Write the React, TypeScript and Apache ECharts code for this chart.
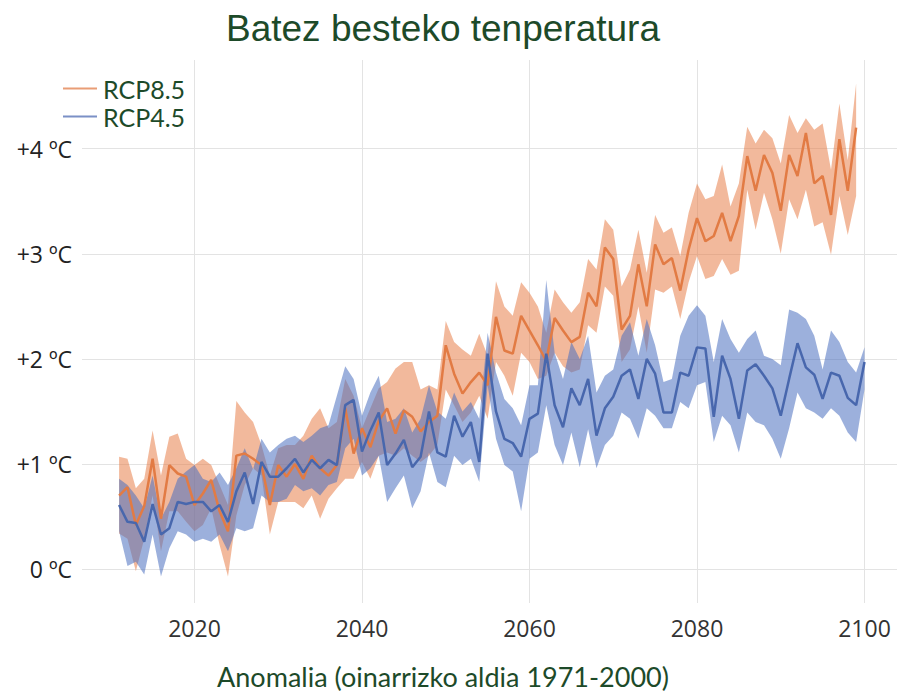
import React, { useEffect, useRef } from 'react';
import * as echarts from 'echarts';

const years = [
  2011, 2012, 2013, 2014, 2015, 2016, 2017, 2018, 2019, 2020,
  2021, 2022, 2023, 2024, 2025, 2026, 2027, 2028, 2029, 2030,
  2031, 2032, 2033, 2034, 2035, 2036, 2037, 2038, 2039, 2040,
  2041, 2042, 2043, 2044, 2045, 2046, 2047, 2048, 2049, 2050,
  2051, 2052, 2053, 2054, 2055, 2056, 2057, 2058, 2059, 2060,
  2061, 2062, 2063, 2064, 2065, 2066, 2067, 2068, 2069, 2070,
  2071, 2072, 2073, 2074, 2075, 2076, 2077, 2078, 2079, 2080,
  2081, 2082, 2083, 2084, 2085, 2086, 2087, 2088, 2089, 2090,
  2091, 2092, 2093, 2094, 2095, 2096, 2097, 2098, 2099, 2100,
];

// RCP8.5 (2011-2099)
const rcp85Mean = [
  0.70, 0.78, 0.42, 0.60, 1.05, 0.48, 0.99, 0.91, 0.88, 0.61,
  0.72, 0.85, 0.55, 0.36, 1.08, 1.10, 1.05, 0.99, 0.61, 0.99,
  0.88, 1.00, 0.86, 1.08, 0.96, 0.89, 0.99, 1.53, 1.10, 1.34,
  1.16, 1.41, 1.53, 1.29, 1.51, 1.45, 1.31, 1.40, 1.46, 2.13,
  1.86, 1.67, 1.78, 1.87, 1.75, 2.40, 2.08, 2.05, 2.41, 2.27,
  2.13, 1.98, 2.39, 2.27, 2.16, 2.21, 2.63, 2.50, 3.06, 2.95,
  2.28, 2.41, 2.90, 2.50, 3.09, 2.90, 2.96, 2.65, 3.04, 3.34,
  3.12, 3.17, 3.39, 3.12, 3.36, 3.93, 3.60, 3.94, 3.77, 3.41,
  3.94, 3.74, 4.15, 3.67, 3.74, 3.37, 4.09, 3.60, 4.20,
];
const rcp85Upper = [
  1.07, 1.05, 0.77, 0.86, 1.32, 0.89, 1.26, 1.29, 1.05, 0.99,
  1.05, 0.99, 0.80, 0.61, 1.60, 1.49, 1.40, 1.18, 0.89, 1.15,
  1.18, 1.18, 1.27, 1.43, 1.53, 1.34, 1.40, 1.81, 1.65, 1.34,
  1.53, 1.72, 1.78, 1.91, 1.97, 1.97, 1.71, 1.75, 1.71, 2.36,
  2.16, 2.09, 2.03, 2.24, 2.03, 2.74, 2.50, 2.41, 2.73, 2.63,
  2.50, 2.25, 2.66, 2.54, 2.44, 2.54, 2.95, 2.85, 3.33, 3.23,
  2.69, 2.85, 3.23, 2.82, 3.37, 3.20, 3.25, 2.98, 3.39, 3.67,
  3.52, 3.55, 3.85, 3.45, 3.67, 4.21, 4.05, 4.18, 4.10, 3.86,
  4.32, 4.15, 4.29, 4.18, 4.24, 3.80, 4.43, 3.89, 4.62,
];
const rcp85Lower = [
  0.34, 0.29, -0.02, 0.29, 0.70, 0.17, 0.55, 0.55, 0.45, 0.36,
  0.42, 0.58, 0.23, -0.07, 0.51, 0.80, 0.96, 0.89, 0.33, 0.64,
  0.64, 0.64, 0.58, 0.70, 0.48, 0.67, 0.77, 0.86, 0.86, 1.02,
  0.86, 1.08, 1.11, 1.08, 1.15, 1.08, 1.02, 1.08, 1.18, 1.71,
  1.56, 1.40, 1.49, 1.65, 1.43, 1.97, 1.84, 1.65, 2.06, 1.97,
  1.81, 1.84, 2.06, 1.93, 1.87, 1.90, 2.32, 2.25, 2.69, 2.60,
  1.97, 2.09, 2.50, 2.06, 2.66, 2.63, 2.69, 2.38, 2.73, 2.98,
  2.76, 2.79, 2.95, 2.80, 2.84, 3.61, 3.23, 3.58, 3.33, 3.00,
  3.52, 3.33, 3.61, 3.26, 3.30, 2.99, 3.55, 3.18, 3.55,
];

// RCP4.5 (2011-2100)
const rcp45Mean = [
  0.61, 0.45, 0.44, 0.26, 0.62, 0.33, 0.39, 0.64, 0.62, 0.64,
  0.64, 0.55, 0.61, 0.45, 0.74, 0.92, 0.62, 1.02, 0.88, 0.88,
  0.96, 1.05, 0.92, 1.04, 0.96, 1.04, 0.99, 1.56, 1.61, 1.12,
  1.32, 1.49, 0.99, 1.10, 1.23, 0.97, 1.07, 1.50, 1.11, 1.07,
  1.46, 1.26, 1.40, 1.02, 2.05, 1.50, 1.24, 1.20, 1.07, 1.43,
  1.48, 2.05, 1.56, 1.35, 1.72, 1.56, 1.81, 1.27, 1.53, 1.64,
  1.84, 1.90, 1.62, 2.00, 1.86, 1.49, 1.49, 1.87, 1.84, 2.11,
  2.10, 1.45, 2.03, 1.81, 1.43, 1.89, 1.95, 1.84, 1.72, 1.46,
  1.81, 2.15, 1.92, 1.85, 1.62, 1.87, 1.84, 1.63, 1.56, 1.97,
];
const rcp45Upper = [
  0.86, 0.80, 0.70, 0.58, 0.89, 0.48, 0.64, 0.86, 0.93, 0.99,
  0.86, 0.83, 0.92, 0.80, 0.96, 1.15, 0.95, 1.24, 1.11, 1.18,
  1.24, 1.27, 1.21, 1.27, 1.34, 1.37, 1.65, 1.93, 1.81, 1.46,
  1.68, 1.84, 1.40, 1.43, 1.53, 1.30, 1.43, 1.75, 1.50, 1.43,
  1.68, 1.50, 1.59, 1.43, 2.25, 1.87, 1.62, 1.53, 1.37, 1.75,
  1.75, 2.75, 2.06, 1.81, 2.16, 2.00, 2.22, 1.68, 1.84, 1.90,
  2.22, 2.35, 2.03, 2.38, 2.13, 1.78, 1.81, 2.22, 2.41, 2.51,
  2.41, 1.97, 2.38, 2.19, 2.06, 2.19, 2.27, 2.03, 2.00, 1.94,
  2.47, 2.44, 2.38, 2.22, 1.90, 2.27, 2.16, 1.97, 1.87, 2.11,
];
const rcp45Lower = [
  0.36, 0.03, 0.07, -0.05, 0.33, -0.07, 0.20, 0.36, 0.33, 0.26,
  0.29, 0.26, 0.33, 0.17, 0.39, 0.36, 0.39, 0.70, 0.64, 0.64,
  0.67, 0.80, 0.74, 0.77, 0.70, 0.80, 0.83, 1.15, 1.24, 0.89,
  0.96, 1.08, 0.64, 0.77, 0.89, 0.58, 0.74, 1.11, 0.83, 0.78,
  1.08, 0.99, 1.05, 0.83, 1.75, 1.24, 0.99, 0.93, 0.55, 1.05,
  1.11, 1.56, 1.18, 0.99, 1.30, 0.97, 1.33, 0.96, 1.18, 1.27,
  1.49, 1.43, 1.24, 1.53, 1.46, 1.34, 1.34, 1.59, 1.53, 1.75,
  1.78, 1.21, 1.46, 1.37, 1.11, 1.49, 1.40, 1.37, 1.24, 1.05,
  1.34, 1.68, 1.53, 1.49, 1.43, 1.53, 1.46, 1.30, 1.21, 1.71,
];

const xTicks = [2020, 2040, 2060, 2080, 2100];
const yTicks = [0, 1, 2, 3, 4];
const yTickLabels = ['0 ºC', '+1 ºC', '+2 ºC', '+3 ºC', '+4 ºC'];

const TITLE = 'Batez besteko tenperatura';
const CAPTION = 'Anomalia (oinarrizko aldia 1971-2000)';
const GREEN = '#1d4a29';

function bandSeries(name: string, lower: number[], upper: number[], fill: string, z: number) {
  const data = lower.map((lo, i) => [years[i], lo, upper[i]]);
  return {
    type: 'custom',
    name,
    silent: true,
    z,
    data,
    encode: { x: 0, y: [1, 2] },
    renderItem: (params: any, api: any) => {
      if (params.dataIndex !== 0) return null;
      const top = data.map((d) => api.coord([d[0], d[2]]));
      const bottom = data.map((d) => api.coord([d[0], d[1]])).reverse();
      return {
        type: 'polygon',
        shape: { points: top.concat(bottom) },
        style: { fill },
      };
    },
  };
}

export default function App() {
  const ref = useRef<HTMLDivElement>(null);
  useEffect(() => {
    if (!ref.current) return;
    const chart = echarts.init(ref.current, undefined, { renderer: 'svg' });
    const orange = '#e27b44';
    const blue = '#4867ad';
    chart.setOption({
      animation: false,
      backgroundColor: '#ffffff',
      grid: { left: 82, right: 0, top: 60, bottom: 91, outerBoundsMode: 'none' },
      legend: {
        data: [
          { name: 'RCP8.5', itemStyle: { color: '#e99d76' } },
          { name: 'RCP4.5', itemStyle: { color: '#7b90c6' } },
        ],
        orient: 'vertical',
        left: 63,
        top: 76,
        padding: 0,
        icon: 'rect',
        itemWidth: 34,
        itemHeight: 2,
        itemGap: 3,
        textStyle: { fontFamily: 'Lato', fontSize: 25, lineHeight: 25, color: GREEN, padding: [0, 0, 0, 1] },
      },
      xAxis: {
        type: 'value',
        min: 2006.57,
        max: 2103.88,
        axisLine: { show: false },
        axisTick: { show: false },
        splitLine: { show: false },
        axisLabel: {
          margin: 13,
          fontFamily: 'Open Sans',
          fontSize: 23,
          color: '#333333',
          formatter: (v: number) => (xTicks.indexOf(v) >= 0 ? String(v) : ''),
        },
      },
      yAxis: {
        type: 'value',
        min: -0.322,
        max: 4.844,
        axisLine: { show: false },
        axisTick: { show: false },
        splitLine: { show: false },
        axisLabel: {
          margin: 10,
          fontFamily: 'Open Sans',
          fontSize: 23,
          color: '#222222',
          formatter: (v: number) => {
            const k = yTicks.indexOf(v);
            return k >= 0 ? yTickLabels[k] : '';
          },
        },
      },
      graphic: [
        {
          type: 'text',
          x: 443,
          y: 28,
          style: {
            text: TITLE,
            fontFamily: 'Liberation Sans',
            fontSize: 37,
            fill: GREEN,
            textAlign: 'center',
            textVerticalAlign: 'middle',
          },
        },
        {
          type: 'text',
          x: 443,
          y: 676,
          style: {
            text: CAPTION,
            fontFamily: 'Lato',
            fontSize: 27,
            lineHeight: 27,
            fill: GREEN,
            textAlign: 'center',
            textVerticalAlign: 'middle',
          },
        },
      ],
      series: [
        bandSeries('RCP8.5 tartea', rcp85Lower, rcp85Upper, 'rgba(232,128,74,0.55)', 2),
        bandSeries('RCP4.5 tartea', rcp45Lower, rcp45Upper, 'rgba(74,112,192,0.55)', 2),
        {
          type: 'line',
          name: 'RCP8.5',
          data: rcp85Mean.map((v, i) => [years[i], v]),
          symbol: 'none',
          z: 3,
          color: orange,
          lineStyle: { color: orange, width: 2.5 },
          itemStyle: { color: orange },
          markLine: {
            silent: true,
            z: 1,
            symbol: ['none', 'none'],
            label: { show: false },
            emphasis: { disabled: true },
            lineStyle: { color: '#e3e3e3', width: 1, type: 'solid' },
            data: [
              ...xTicks.map((v) => ({ xAxis: v })),
              ...yTicks.map((v) => ({ yAxis: v })),
            ],
          },
        },
        {
          type: 'line',
          name: 'RCP4.5',
          data: rcp45Mean.map((v, i) => [years[i], v]),
          symbol: 'none',
          z: 4,
          color: blue,
          lineStyle: { color: blue, width: 2.5 },
          itemStyle: { color: blue },
        },
      ],
    });
    return () => chart.dispose();
  }, []);
  return (
    <div
      ref={ref}
      style={{ position: 'fixed', left: 0, top: 0, width: 897, height: 694 }}
    />
  );
}
